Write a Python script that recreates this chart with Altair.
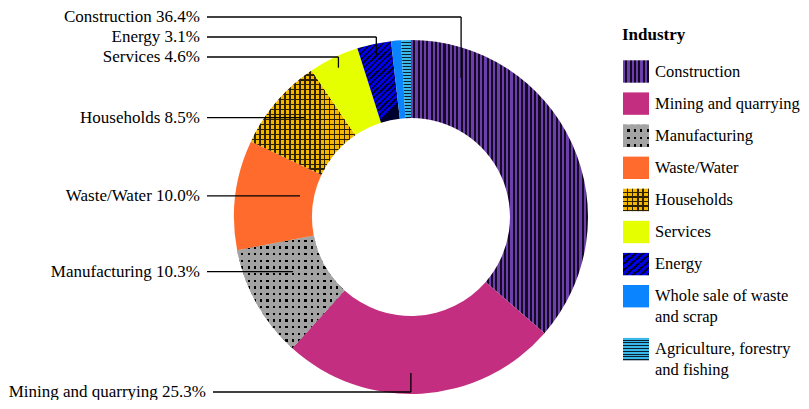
import math
import altair as alt
import pandas as pd

# ---------------- data ----------------
industries = [
    "Construction",
    "Mining and quarrying",
    "Manufacturing",
    "Waste/Water",
    "Households",
    "Services",
    "Energy",
    "Whole sale of waste and scrap",
    "Agriculture, forestry and fishing",
]
shares = [36.4, 25.3, 10.3, 10.0, 8.5, 4.6, 3.1, 0.9, 0.9]
legend_text = [
    ["Construction"],
    ["Mining and quarrying"],
    ["Manufacturing"],
    ["Waste/Water"],
    ["Households"],
    ["Services"],
    ["Energy"],
    ["Whole sale of waste", "and scrap"],
    ["Agriculture, forestry", "and fishing"],
]
labelled = ["Construction", "Energy", "Services", "Households",
            "Waste/Water", "Manufacturing", "Mining and quarrying"]

# ---------------- layout / style ----------------
CX, CY, R_OUT, R_IN = 403, 209, 177, 99
FONT = "Liberation Serif"
FS = 17
LABEL_RIGHT, LEADER_GAP = 192, 7
# where the leader touches each slice: fraction of the slice's sweep, radius
anchor_style = {
    "Construction": (0.151, 148),
    "Mining and quarrying": (0.538, 156),
    "Manufacturing": (0.62, 130),
    "Waste/Water": (0.60, 113),
    "Households": (0.58, 146),
    "Services": (0.50, 166),
    "Energy": (0.50, 166),
}
# labels that sit on their own row (elbow leaders)
label_rows = {"Construction": 9, "Energy": 29, "Services": 49,
              "Mining and quarrying": 384}
# the long bottom label is nudged right so it stays on the page
label_shift = {"Mining and quarrying": 6}

LEG_X1, LEG_X2, LEG_TXT = 615, 641, 647
LEG_FS = 16.5
LEG_Y0, LEG_STEP, LEG_EXTRA, LEG_H = 63.5, 32.1, 20.8, 22.4


def stripes(bg, fg, n, frac, x2, y2):
    stops = []
    for k in range(n):
        a = k / n
        m = (k + 1 - frac) / n
        b = min((k + 1) / n, 1.0)
        stops += [{"offset": round(a, 5), "color": bg},
                  {"offset": round(m, 5), "color": bg},
                  {"offset": round(m, 5), "color": fg},
                  {"offset": round(b, 5), "color": fg}]
    return {"gradient": "linear", "x1": 0, "y1": 0, "x2": x2, "y2": y2,
            "stops": stops}


CLEAR = "rgba(0,0,0,0)"


def fills(name, swatch):
    if name == "Construction":
        return [stripes("#6C40AC", "#150926", 6 if swatch else 41, 0.48, 1, 0)]
    if name == "Mining and quarrying":
        return ["#C42E80"]
    if name == "Manufacturing":
        rows, cols = (3, 4) if swatch else (17, 17)
        return [stripes("#A3A3A3", "#000000", rows, 0.36, 0, 1),
                stripes("#A3A3A3", CLEAR, cols, 0.36, 1, 0)]
    if name == "Waste/Water":
        return ["#FF6B2C"]
    if name == "Households":
        n = 5 if swatch else 21
        return [stripes("#F4B800", "#2E2200", n, 0.28, 0, 1),
                stripes(CLEAR, "#2E2200", n, 0.28, 1, 0)]
    if name == "Services":
        return ["#E6FF00"]
    if name == "Energy":
        if swatch:
            return [stripes("#0000E6", "#00002E", 7, 0.4, 1, 1)]
        return [stripes("#0000E6", "#00002E", 18, 0.4, 0.5, 1)]
    if name == "Whole sale of waste and scrap":
        return ["#0A84FF"]
    return [stripes("#3AB8EA", "#0A2030", 8 if swatch else 26, 0.38, 0, 1)]


# ---------------- tables ----------------
starts, acc = [], 0.0
for s in shares:
    starts.append(acc)
    acc += s
slices = pd.DataFrame({"name": industries, "share": shares, "start": starts,
                       "end": [a + s for a, s in zip(starts, shares)]})

theta_scale = alt.Scale(domain=[0, 100], range=[0, 2 * math.pi])

layers = []
for name in industries:
    for f in fills(name, False):
        layers.append(
            alt.Chart(slices).transform_filter(alt.datum.name == name)
            .mark_arc(radius=R_OUT, radius2=R_IN, fill=f)
            .encode(theta=alt.Theta("start:Q", scale=theta_scale),
                    theta2="end:Q", x=alt.value(CX), y=alt.value(CY))
        )

# leader lines and labels
seg_rows, lab_rows = [], []
for name in labelled:
    i = industries.index(name)
    frac, ra = anchor_style[name]
    ang = math.radians(3.6 * (starts[i] + frac * shares[i]))
    ax = CX + ra * math.sin(ang)
    ay = CY - ra * math.cos(ang)
    ly = label_rows.get(name, ay)
    tx = LABEL_RIGHT + label_shift.get(name, 0)
    seg_rows.append({"x": tx + LEADER_GAP, "y": ly, "x2": ax, "y2": ly})
    if name in label_rows:
        seg_rows.append({"x": ax, "y": ly, "x2": ax, "y2": ay})
    lab_rows.append({"label": f"{name} {shares[i]:.1f}%", "x": tx, "y": ly})
segs = pd.DataFrame(seg_rows)
labs = pd.DataFrame(lab_rows)

layers.append(
    alt.Chart(segs).mark_rule(color="black", strokeWidth=1.3).encode(
        x=alt.X("x:Q", scale=None, axis=None), y=alt.Y("y:Q", scale=None, axis=None),
        x2="x2:Q", y2="y2:Q")
)
layers.append(
    alt.Chart(labs).mark_text(align="right", baseline="middle", font=FONT,
                              fontSize=FS, color="black").encode(
        x=alt.X("x:Q", scale=None, axis=None), y=alt.Y("y:Q", scale=None, axis=None),
        text="label:N")
)

# legend (drawn by hand so the swatches can carry the patterns)
leg_rows, leg_txt = [], []
extra = 0
for i, name in enumerate(industries):
    yc = LEG_Y0 + LEG_STEP * i + LEG_EXTRA * extra
    leg_rows.append({"name": name, "x": LEG_X1, "x2": LEG_X2,
                     "y": yc - LEG_H / 2, "y2": yc + LEG_H / 2})
    for j, t in enumerate(legend_text[i]):
        leg_txt.append({"t": t, "x": LEG_TXT, "y": yc + LEG_EXTRA * j})
    extra += len(legend_text[i]) - 1
leg = pd.DataFrame(leg_rows)
legt = pd.DataFrame(leg_txt)

for name in industries:
    for f in fills(name, True):
        layers.append(
            alt.Chart(leg).transform_filter(alt.datum.name == name)
            .mark_rect(fill=f).encode(
                x=alt.X("x:Q", scale=None, axis=None), x2="x2:Q",
                y=alt.Y("y:Q", scale=None, axis=None), y2="y2:Q")
        )
layers.append(
    alt.Chart(legt).mark_text(align="left", baseline="middle", font=FONT,
                              fontSize=LEG_FS, color="black").encode(
        x=alt.X("x:Q", scale=None, axis=None), y=alt.Y("y:Q", scale=None, axis=None),
        text="t:N")
)
title_df = pd.DataFrame({"t": ["Industry"], "x": [LEG_X1 - 1], "y": [27]})
layers.append(
    alt.Chart(title_df).mark_text(align="left", baseline="middle", font=FONT,
                                  fontSize=FS, fontWeight="bold", color="black").encode(
        x=alt.X("x:Q", scale=None, axis=None), y=alt.Y("y:Q", scale=None, axis=None),
        text="t:N")
)

chart = alt.layer(*layers).properties(
    width=793, height=392, padding=0, autosize="none"
).configure_view(stroke=None)

chart.save("out.html", embed_options={"renderer": "svg", "actions": False})
